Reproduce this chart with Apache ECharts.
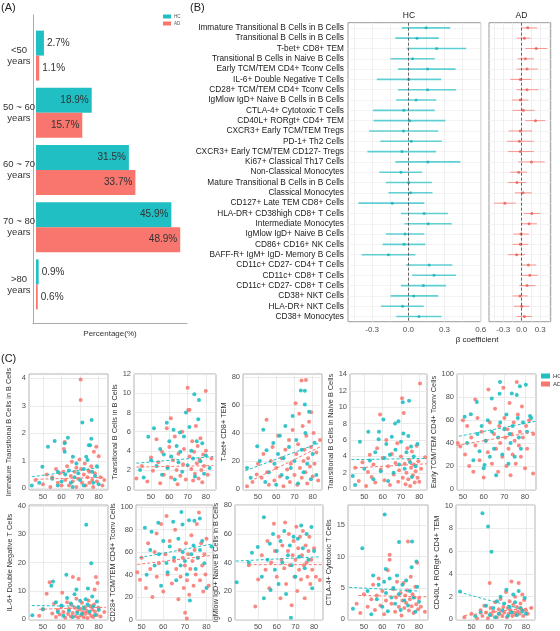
<!DOCTYPE html>
<html>
<head>
<meta charset="utf-8">
<script src="https://cdn.jsdelivr.net/npm/echarts@6/dist/echarts.min.js"></script>
<style>
  html, body { margin: 0; padding: 0; background: #fff; }
  #chart { width: 560px; height: 631px; }
</style>
</head>
<body>
<div id="chart"></div>
<script>
const HC_COLOR = '#1fbfc4';
const AD_COLOR = '#f8766d';
const FONT = '"Liberation Sans", Arial, sans-serif';

// (A) age distribution
const ageGroups = ['<50\nyears', '50 ~ 60\nyears', '60 ~ 70\nyears', '70 ~ 80\nyears', '>80\nyears'];
const hcPct = [2.7, 18.9, 31.5, 45.9, 0.9];
const adPct = [1.1, 15.7, 33.7, 48.9, 0.6];

// (B) beta coefficients
const cellTypes = [
  'Immature Transitional B Cells in B Cells', 'Transitional B Cells in B Cells', 'T-bet+ CD8+ TEM',
  'Transitional B Cells in Naive B Cells', 'Early TCM/TEM CD4+ Tconv Cells', 'IL-6+ Double Negative T Cells',
  'CD28+ TCM/TEM CD4+ Tconv Cells', 'IgMlow IgD+ Naive B Cells in B Cells', 'CTLA-4+ Cytotoxic T Cells',
  'CD40L+ RORgt+ CD4+ TEM', 'CXCR3+ Early TCM/TEM Tregs', 'PD-1+ Th2 Cells',
  'CXCR3+ Early TCM/TEM CD127- Tregs', 'Ki67+ Classical Th17 Cells', 'Non-Classical Monocytes',
  'Mature Transitional B Cells in B Cells', 'Classical Monocytes', 'CD127+ Late TEM CD8+ Cells',
  'HLA-DR+ CD38high CD8+ T Cells', 'Intermediate Monocytes', 'IgMlow IgD+ Naive B Cells',
  'CD86+ CD16+ NK Cells', 'BAFF-R+ IgM+ IgD- Memory B Cells', 'CD11c+ CD27- CD4+ T Cells',
  'CD11c+ CD8+ T Cells', 'CD11c+ CD27- CD8+ T Cells', 'CD38+ NKT Cells', 'HLA-DR+ NKT Cells', 'CD38+ Monocytes'
];
const hcBeta = [0.147, 0.072, 0.235, 0.035, 0.16, 0.003, 0.16, 0.064, -0.037, 0.011, -0.04, 0.024, -0.053, 0.163, -0.061,
  0.003, 0.019, -0.133, 0.131, 0.165, -0.027, -0.035, -0.165, 0.173, 0.213, 0.125, 0.045, -0.048, 0.088];
const hcLow = [-0.053, -0.107, -0.013, -0.147, -0.085, -0.261, -0.085, -0.101, -0.293, -0.288, -0.325, -0.232, -0.339, -0.107, -0.24,
  -0.187, -0.165, -0.413, -0.061, -0.032, -0.187, -0.213, -0.387, -0.019, 0.032, -0.061, -0.147, -0.227, -0.099];
const hcHigh = [0.347, 0.253, 0.48, 0.219, 0.392, 0.272, 0.397, 0.232, 0.219, 0.307, 0.248, 0.277, 0.229, 0.432, 0.115,
  0.195, 0.2, 0.133, 0.328, 0.36, 0.133, 0.141, 0.059, 0.365, 0.395, 0.312, 0.248, 0.128, 0.275];
const adBeta = [0.098, 0.044, 0.235, 0.06, 0.087, -0.022, 0.087, -0.022, 0.027, 0.224, -0.022, -0.038, -0.022, 0.158, -0.049,
  -0.077, 0.022, -0.273, 0.164, 0.12, -0.011, -0.022, -0.082, 0.109, 0.131, 0.087, -0.027, 0, 0.044];
const adLow = [-0.011, -0.082, 0.06, -0.066, -0.082, -0.186, -0.082, -0.158, -0.148, 0.06, -0.213, -0.24, -0.219, -0.055, -0.186,
  -0.219, -0.109, -0.448, 0.033, -0.011, -0.137, -0.148, -0.219, -0.011, 0, -0.038, -0.148, -0.131, -0.082];
const adHigh = [0.251, 0.142, 0.41, 0.197, 0.262, 0.153, 0.273, 0.109, 0.208, 0.383, 0.169, 0.197, 0.197, 0.372, 0.087,
  0.071, 0.164, -0.093, 0.3, 0.246, 0.115, 0.109, 0.055, 0.235, 0.262, 0.224, 0.098, 0.126, 0.164];
const hcBetaTicks = [-0.3, 0, 0.3, 0.6];
const adBetaTicks = [-0.3, 0, 0.3];

// (C) age vs cell level
const ageTicks = [50, 60, 70, 80];
const scatterTitles = [
  'Immature Transitional B Cells in B Cells', 'Transitional B Cells in B Cells', 'T-bet+ CD8+ TEM',
  'Transitional B Cells in Naive B Cells', 'Early TCM/TEM CD4+ Tconv Cells', 'IL-6+ Double Negative T Cells',
  'CD28+ TCM/TEM CD4+ Tconv Cells', 'IgMlow IgD+ Naive B Cells in B Cells', 'CTLA-4+ Cytotoxic T Cells',
  'CD40L+ RORgt+ CD4+ TEM'
];
const scatterYTicks = [
  [0, 1, 2, 3, 4], [0, 2, 4, 6, 8, 10, 12], [0, 20, 40, 60, 80], [0, 2, 4, 6, 8, 10, 12, 14], [0, 20, 40, 60, 80, 100],
  [0, 10, 20, 30, 40], [0, 20, 40, 60, 80, 100], [0, 20, 40, 60, 80], [0, 5, 10, 15], [0, 2, 4, 6, 8, 10]
];
const hcPoints = [
  [[44,0.1],[48,0.2],[49.7,0.79],[52.7,1.51],[55,0.35],[56.3,1.72],[58,0.6],[60,0.25],[61.7,1.64],[61.7,1.33],[62,0.5],[63.4,1.84],
   [64,0.65],[65,0.2],[66.1,1.15],[67,0.4],[68,0.9],[69,0.55],[70,0.3],[71.2,2.4],[72,0.7],[73.3,1.15],[74,1.03],[74.7,1.57],
   [75.4,1.57],[76,1.8],[76.2,2.49],[76.5,0.6],[77,0.2],[78,0.45],[79,0.8],[80,0.15],[66,0.05],[58,0.1],[72,0.1]],
  [[44,2.0],[46,1.2],[48.5,5.47],[50,3.0],[51.6,6.35],[53,2.4],[55,4.2],[56,1.5],[57,3.6],[58.6,6.94],[59,2.2],[60,5.0],[61,3.4],
   [62.3,6.2],[63,1.0],[64,4.5],[65,2.8],[65.8,5.9],[66,3.9],[67,1.8],[68,5.5],[69.1,8.0],[70,2.5],[71,6.5],[72,4.0],[73,3.2],
   [73.7,9.9],[74,1.3],[75,5.0],[75.8,7.3],[76.2,9.3],[77,2.9],[78,4.8],[79,1.6],[80,3.5],[82,2.2]],
  [[44,15],[46,8],[49.6,30.5],[51,20],[52.9,42.3],[54,5],[54.7,27.7],[56,12],[58.4,32.8],[59,18],[60,3],[61,25],[62,38],[63,10],
   [64,22],[65,45],[66,8],[67,30],[68,15],[69,52],[70,20],[71,35],[72,4],[73.5,70.2],[74,28],[75,12],[75.7,70],[75.7,60.3],[76,40],
   [77,18],[78,55],[79,7],[80,25],[81,33],[82,10]],
  [[43.7,1.6],[45,0.5],[47.6,5.8],[50,2.5],[52.2,7.0],[53,3.5],[55,1.2],[56,4.5],[57.8,6.1],[58,7.0],[59,2.2],[60.4,8.5],[61,3.8],
   [62,5.5],[63,1.0],[64,4.2],[65,6.4],[66,2.0],[66.8,8.0],[67,4.8],[68.6,8.3],[69,3.0],[70,5.8],[71,10.6],[71.3,6.8],[72,2.5],
   [73,4.5],[74,6.5],[74.4,10.8],[75,3.3],[75.5,5.2],[76,1.5],[77,4.0],[78,2.8],[79,5.5]],
  [[50.8,62.9],[52,40],[53.8,65.2],[55,25],[56.7,75.9],[57,48],[58,33],[59,55],[60,18],[60.4,20.9],[61,42],[62,60],[63,28],
   [63.9,78.9],[64,50],[65,35],[66,12],[67,45],[67.7,83],[67.9,93.3],[68,58],[69,30],[70,52],[71,65],[72,22],[72.5,48],[73,40],
   [73.6,83.2],[74,55],[75,28],[76,82],[76.5,62],[77,45],[77.5,89.6],[78,35],[79,58],[80.4,91],[81,50],[82.4,63.7],[83,62]],
  [[44.3,1.4],[50,3.5],[54.5,11.8],[55.4,13.3],[57,6],[58,2.5],[60,4.8],[61,1.2],[62.6,15.7],[63,7.5],[64,3],[65,5.5],[66,0.8],
   [67,8.8],[68,10.5],[68.5,2.2],[69,4.2],[70,6.5],[71,1.8],[72,3.8],[73,7.0],[73.3,33.3],[74,5.2],[74.2,10.8],[75,2.6],[76,19.7],
   [76.5,8.0],[77,4.5],[78,1.5],[79,6.2],[80,3.2]],
  [[51.5,81.7],[52.3,39.8],[54,62],[54.6,78.1],[56,48],[57.7,86.1],[58,58],[59,30],[60,70],[61.5,50.2],[62,42],[63,65],[64.6,87],
   [65,55],[66,35],[67,72],[68,48],[68.4,95.8],[68.9,84.7],[69,60],[70,52],[71,40],[71.9,88.5],[72.3,16.8],[73,58],[74,66],
   [74.4,88],[75,45],[76,55],[76.9,90],[77,62],[78,70],[79,50],[80,28],[82.3,64.9]],
  [[38.5,26.2],[45,40],[46.7,46.8],[49.8,50.9],[52,30],[53.1,71.8],[53.1,15],[55,42],[56.3,53.2],[56.7,20.8],[58,60],[59,35],
   [60,48],[61,25],[62,55],[63,40],[64,62],[65,18],[66,45],[67,52],[67.6,1.2],[68,38],[69,58],[70,30],[71.3,56.7],[72,44],
   [73.1,66],[74,50],[75,36],[76,60],[77,42],[78.6,64.8],[79,22],[80,48]],
  [[44,1.7],[49.1,11.3],[52,4.5],[54,0.8],[55,7.0],[57,3.2],[58,5.5],[60,2.0],[61,6.0],[61.3,16.7],[61.9,8.0],[62,4.2],[63,1.3],
   [64,6.5],[65,3.5],[66,5.0],[67,2.5],[68,7.0],[69,4.0],[69.1,12.3],[70,1.5],[71,5.5],[72,3.0],[73,6.2],[74,2.2],[75,4.5],
   [76,8.3],[76.2,12.4],[77,3.5],[78,1.2],[78.6,9.2],[79,5.2],[80,2.8]],
  [[43.6,2.46],[52,0.3],[55,0.6],[56,9.33],[58,1.2],[59.1,8.17],[60,0.4],[61,5.94],[62,1.0],[63,0.2],[64,1.6],[65,0.5],[66,2.0],
   [67,0.8],[68,1.4],[69.2,2.6],[70,0.3],[71,1.1],[72,0.6],[73,2.2],[74,1.5],[75,0.4],[76,2.5],[77,1.0],[78,0.7],[79.3,1.88],[80,0.5]]
];
const adPoints = [
  [[46,0.3],[50,0.15],[52,0.5],[54,0.05],[55,0.4],[57,0.7],[58,0.2],[59,0.55],[60,0.1],[61,0.6],[61.3,1.43],[61.7,1.69],[62,0.3],
   [63,0.8],[64,0.1],[65,0.45],[65.6,0.97],[66,0.25],[67,0.6],[68,0.05],[69,0.35],[69.7,1.05],[70.3,3.96],[70.3,3.21],[70.5,0.7],
   [71,0.2],[72,0.5],[72.5,0.9],[73,0.1],[74,0.4],[74.5,0.65],[75,0.2],[76,0.8],[76.5,0.3],[77,0.05],[77.4,1.33],[78,0.55],
   [78.7,1.51],[79,0.25],[80,1.17],[81,0.4],[82,0.1],[83,0.3],[75,0.6],[68,0.75]],
  [[42,1.1],[45,2.4],[48,0.8],[50,3.3],[51,1.9],[53,5.2],[54,2.8],[55,0.6],[56,3.9],[57,1.5],[58.6,6.35],[59,2.3],[60,4.4],
   [60.8,7.4],[61,1.2],[62,3.0],[63,5.5],[64,2.0],[64.5,0.5],[65,3.7],[66,1.4],[67,6.0],[67.5,2.6],[68,4.2],[69,1.0],[70,10.6],
   [70.4,8.26],[71,8.3],[71,3.4],[72,2.1],[72.5,5.0],[73,0.9],[73.5,3.9],[74,1.6],[74.5,6.6],[75,2.7],[75.5,4.5],[76,1.1],
   [76.5,3.1],[77,5.3],[77.5,2.0],[78,0.7],[78.5,3.6],[79,2.4],[79.9,10.25],[80,4.0],[81,1.5],[83,3.2]],
  [[44,2],[47,5],[49.3,10.4],[50,18],[52,8],[53,25],[54.7,49.4],[55,12],[56,3],[57,20],[58,30],[59,6],[60,15],[61,38],[62,9],
   [63,22],[64,2],[65,28],[66,14],[67,35],[67.5,5],[68,18],[69,42],[70,10],[70.6,61.2],[71,25],[71.5,3],[72,32],[72.6,53.7],
   [73,15],[73.9,77.3],[74,8],[74.5,45],[75,20],[75.5,28],[76,12],[76.3,77.8],[76.5,38],[77,4],[77.5,22],[78,48],[78.5,16],
   [79,30],[79.2,54.8],[80,9],[80.5,40],[81,18],[82,26],[83,6],[84,35]],
  [[45,2.6],[47,1.0],[49,3.3],[51,0.4],[52,2.1],[53,4.2],[54,1.5],[55,3.0],[56,0.8],[57,5.0],[58.6,9.1],[59,2.4],[60,3.8],[61,1.1],
   [62,6.0],[63,2.8],[64,0.5],[65,4.3],[66,1.8],[67,3.2],[68,5.6],[68.5,0.9],[69,2.3],[70,4.0],[70.6,11.1],[71,1.4],[71.5,9.3],
   [72,3.1],[72.5,0.6],[73,2.0],[73.5,5.0],[74,1.2],[74.5,3.6],[75,0.4],[75.5,2.6],[76,4.6],[76.5,1.7],[77,3.0],[77.5,0.8],
   [78,2.2],[78.5,5.3],[79,1.4],[79.5,3.4],[80,0.9],[80.4,12.9],[81,2.5],[83.2,3.9]],
  [[47.5,40],[48.7,37.1],[50,60],[51,30],[52,55],[53,20],[54,45],[55,15],[55.9,78],[56,38],[57,62],[58,25],[59,50],[60,10],[61,42],
   [62,32],[62.3,86.7],[63,58],[64,22],[65,48],[65.5,70],[66,35],[67,15],[67.5,55],[68,40],[69,28],[69.5,88.4],[70,62],[70.5,45],
   [71,20],[71.5,52],[72,35],[72.5,75],[73,12],[73.5,48],[74,30],[74.5,58],[75,42],[75.5,22],[76,93.3],[76.5,65],[77,38],
   [77.5,50],[78,28],[78.5,72],[79,45],[80,18],[80.5,55],[81,35],[82,60],[83.9,13.6],[84,48]],
  [[48,1.2],[50,3.5],[52,9.0],[53.6,13],[55,2.0],[56,5.5],[57,0.8],[58,3.2],[59,1.6],[60,4.4],[60.4,9.3],[61,2.5],[62,0.5],[63,6.0],
   [63.5,1.8],[64,3.6],[65,0.9],[65.5,5.0],[66,2.2],[66.1,14.9],[67,4.0],[67.5,1.0],[68,7.2],[68.5,2.8],[69,0.6],[69.2,14.2],
   [70,3.5],[70.5,1.4],[71,5.8],[71.5,2.4],[72,0.7],[72.5,4.2],[73,1.9],[73.5,3.0],[74,0.4],[74.5,6.6],[75,2.1],[75.5,4.6],
   [76,1.1],[76.5,3.3],[77,0.8],[77.5,5.2],[77.8,10.5],[78,2.7],[78.5,14.9],[79,1.5],[79.4,12.8],[80,3.9],[81,0.9],[83,2.5]],
  [[48,42],[49.2,35.4],[50,55],[52,28],[53,68],[54,45],[55,20],[56,60],[56.9,76.7],[57,38],[58,50],[59,85],[60,25],[61,58],
   [61.5,92.3],[62,40],[63,70],[64,32],[65,52],[65.5,80],[66,45],[67,18],[67.5,62],[68,38],[69,55],[69.5,28],[70,48],[70.1,5.9],
   [70.5,68],[70.9,0.9],[71,35],[71.5,58],[72,22],[72.5,45],[73,75],[73.5,52],[74,30],[74.5,62],[75,40],[75.5,85],[76,55],
   [76.5,95.3],[77,35],[77.5,68],[78,48],[78.5,25],[79,58],[79.5,40],[80,72],[81,30]],
  [[45,38],[48.5,9.2],[50,28],[52,45],[54,35],[55,55],[56,22],[57,40],[58.5,67.1],[59,48],[60,30],[61,58],[62,15],[62.5,42],
   [63,52],[64,36],[64.5,68],[65,25],[66,48],[66.5,60],[67,38],[68,10],[68.5,45],[69,55],[69.5,30],[70,42],[70.5,65],[71,20],
   [71.5,50],[72,35],[72.5,58],[73,28],[73.5,45],[74,62],[74.5,38],[75,15],[75.5,52],[76,40],[76.5,30],[77,48],[77.5,58],
   [78,25],[78.5,42],[79,35],[80,50],[81,30],[83.1,27.8]],
  [[46,2.5],[48,1.0],[50,4.0],[52,2.0],[54,3.2],[55,5.5],[56,1.5],[57,3.8],[58,6.5],[59,2.2],[60,4.5],[61,0.8],[62,3.0],[63,7.8],
   [64,10.3],[64,9.5],[65,2.5],[66,4.8],[67,1.2],[67.5,3.5],[68,6.0],[69,2.0],[70,4.2],[70.5,0.6],[71,3.0],[71.5,5.8],[72,1.8],
   [72.5,3.8],[73,2.6],[73.5,4.6],[74,12.4],[74.5,1.4],[75,3.2],[75.5,6.8],[76,2.1],[76.5,4.0],[77,1.0],[77.5,3.5],[78,5.2],
   [78.5,2.4],[79,9.0],[79.5,1.6],[80,3.4],[81,2.0],[83.2,1.2]],
  [[46,0.2],[50,0.5],[53,0.1],[55,0.8],[56,0.3],[57,1.2],[58,0.6],[59,0.1],[60,3.19],[60.5,1.0],[61,0.4],[62,0.7],[63,1.5],
   [64,0.2],[65,0.9],[65.5,0.5],[66,1.8],[67,0.3],[67.5,1.1],[68,0.6],[69,2.4],[69.5,0.2],[70,1.0],[70.5,0.5],[71,1.6],[71.5,0.8],
   [72,3.33],[72.5,0.3],[73,1.3],[73.5,0.6],[74,2.0],[74.5,0.4],[75,1.1],[75.5,0.7],[76,3.2],[76.5,0.5],[77,1.4],[77.5,0.9],
   [78,2.2],[78.5,0.3],[79,1.7],[80,0.8],[81,0.5],[83,1.0]]
];
const hcTrend = [
  [[44,0.42],[80,0.75]], [[42,2.7],[84,3.4]], [[43,13],[84,33]], [[43,3.6],[83,3.75]], [[48,46],[85,59]],
  [[44,4.8],[80,4.5]], [[49,55],[82,67]], [[38,41],[83,44]], [[42,5.1],[80,4.5]], [[43,2.4],[80,0.8]]
];
const adTrend = [
  [[46,0.33],[83,0.4]], [[42,2.3],[84,2.45]], [[48,7],[84,30]], [[45,2.6],[84,3.1]], [[47,38],[85,50]],
  [[48,3.5],[84,4.2]], [[48,49],[82,57]], [[45,38.5],[84,38.5]], [[47,3.8],[84,3.6]], [[46,0.35],[84,1.05]]
];

// layout of the small panels in (C)
const scatterLayout = [
  { left: 29, top: 374, width: 79, height: 116, xMin: 42.5, xMax: 85, yMin: -0.06, yMax: 4.16, nameGap: 17 },
  { left: 134, top: 374, width: 82, height: 116, xMin: 40.7, xMax: 85.5, yMin: -0.1, yMax: 12.03, nameGap: 9 },
  { left: 243, top: 374, width: 79, height: 116, xMin: 41.8, xMax: 85.1, yMin: -0.7, yMax: 82, nameGap: 9 },
  { left: 350, top: 374, width: 77, height: 116, xMin: 42.2, xMax: 84.2, yMin: -0.1, yMax: 14.05, nameGap: 10 },
  { left: 457, top: 374, width: 79, height: 116, xMin: 47.1, xMax: 85.3, yMin: -0.9, yMax: 100.3, nameGap: 13 },
  { left: 29, top: 505, width: 79, height: 115, xMin: 42.5, xMax: 85, yMin: -0.3, yMax: 40.3, nameGap: 11 },
  { left: 136, top: 505, width: 77, height: 115, xMin: 47.4, xMax: 83, yMin: -0.5, yMax: 102, nameGap: 12 },
  { left: 235, top: 505, width: 88, height: 115, xMin: 37.6, xMax: 84.8, yMin: -0.3, yMax: 80.3, nameGap: 8 },
  { left: 348, top: 505, width: 80, height: 115, xMin: 41.3, xMax: 84.9, yMin: -0.1, yMax: 18.2, nameGap: 10 },
  { left: 456, top: 505, width: 79, height: 115, xMin: 41.4, xMax: 85, yMin: -0.05, yMax: 10.05, nameGap: 10 }
];

const chart = echarts.init(document.getElementById('chart'));
const tickText = { fontFamily: FONT, fontSize: 7.5, color: '#4d4d4d' };
const grids = [];
const xAxes = [];
const yAxes = [];
const series = [];

// ---- (A) bars
grids.push({ left: 33, top: 27, width: 154, height: 286 });
xAxes.push({ gridIndex: 0, type: 'value', min: 0, max: 51.2, show: false });
yAxes.push({
  gridIndex: 0, type: 'category', data: ageGroups, inverse: true,
  axisLine: { show: false }, axisTick: { show: false },
  axisLabel: { align: 'center', margin: 17, fontFamily: FONT, fontSize: 9.5, lineHeight: 11, color: '#333' }
});
grids.push({ left: 33, top: 15, width: 154, height: 308 });
xAxes.push({
  gridIndex: 1, type: 'value', min: 0, max: 1,
  axisLine: { show: true, lineStyle: { color: '#aaa' } }, axisTick: { show: false },
  axisLabel: { show: false }, splitLine: { show: false },
  name: 'Percentage(%)', nameLocation: 'middle', nameGap: 7,
  nameTextStyle: { fontFamily: FONT, fontSize: 8, color: '#333' }
});
yAxes.push({
  gridIndex: 1, type: 'value', min: 0, max: 1,
  axisLine: { show: true, lineStyle: { color: '#aaa' } }, axisTick: { show: false },
  axisLabel: { show: false }, splitLine: { show: false }
});
const pctLabel = { show: true, formatter: (p) => p.value + '%', fontFamily: FONT, fontSize: 10, color: '#333', distance: 3 };
[['HC', hcPct, HC_COLOR], ['AD', adPct, AD_COLOR]].forEach(([name, vals, color]) => {
  series.push({
    name, type: 'bar', xAxisIndex: 0, yAxisIndex: 0, barWidth: 25, barGap: '0%',
    itemStyle: { color },
    label: pctLabel,
    data: vals.map((v) => ({ value: v, label: { position: v < 10 ? 'right' : 'insideRight' } }))
  });
});

// ---- (B) forest plots
function forestPanel(gi, left, width, min, max, labelTicks, gridTicks, showNames, beta, low, high, color, lineColor, lineWidth, name) {
  grids.push({ left, top: 22.7, width, height: 299, show: true, borderColor: '#999', borderWidth: 1 });
  xAxes.push({
    gridIndex: gi, type: 'value', min, max,
    axisLine: { show: false },
    axisTick: { show: false, customValues: gridTicks },
    axisLabel: { customValues: labelTicks, margin: 4, formatter: (v) => v.toFixed(1), ...tickText, fontSize: 8 },
    splitLine: { show: true, lineStyle: { color: '#ececec', width: 0.8 } }
  });
  yAxes.push({
    gridIndex: gi, type: 'category', data: cellTypes, inverse: true,
    axisLine: { show: false }, axisTick: { show: false, interval: 0 },
    axisLabel: { show: showNames, interval: 0, margin: 4, fontFamily: FONT, fontSize: 8.3, color: '#1a1a1a' },
    splitLine: { show: true, interval: 0, alignWithLabel: true, lineStyle: { color: '#f0f0f0', width: 0.8 } }
  });
  series.push({
    type: 'custom', xAxisIndex: gi, yAxisIndex: gi,
    encode: { x: [0, 1], y: 2 },
    data: cellTypes.map((c, i) => [low[i], high[i], i]),
    renderItem: (params, api) => {
      const a = api.coord([api.value(0), api.value(2)]);
      const b = api.coord([api.value(1), api.value(2)]);
      return { type: 'line', shape: { x1: a[0], y1: a[1], x2: b[0], y2: b[1] }, style: { stroke: lineColor, lineWidth } };
    },
    z: 2
  });
  series.push({
    name, type: 'scatter', xAxisIndex: gi, yAxisIndex: gi,
    symbolSize: 3, itemStyle: { color },
    data: cellTypes.map((c, i) => [beta[i], i]),
    markLine: {
      silent: true, symbol: 'none', label: { show: false },
      lineStyle: { color: '#555', type: [3, 2], width: 0.9 },
      data: [{ xAxis: 0 }]
    },
    z: 3
  });
}
forestPanel(2, 348, 132.7, -0.5, 0.6, hcBetaTicks, [-0.45, -0.3, -0.15, 0, 0.15, 0.3, 0.45, 0.6], true,
  hcBeta, hcLow, hcHigh, '#12b3b8', 'rgba(31,191,196,0.7)', 1.6, 'HC');
forestPanel(3, 489, 61.7, -0.53, 0.47, adBetaTicks, [-0.45, -0.3, -0.15, 0, 0.15, 0.3, 0.45], false,
  adBeta, adLow, adHigh, '#ee5a50', 'rgba(248,118,109,0.75)', 1, 'AD');

// ---- (C) scatter panels
scatterLayout.forEach((L, k) => {
  const gi = 4 + k;
  grids.push({ left: L.left, top: L.top, width: L.width, height: L.height, show: true, borderColor: '#b3b3b3', borderWidth: 1 });
  xAxes.push({
    gridIndex: gi, type: 'value', min: L.xMin, max: L.xMax,
    axisLine: { show: false },
    axisTick: { show: false, customValues: ageTicks },
    axisLabel: { customValues: ageTicks, margin: 3, ...tickText },
    splitLine: { show: true, lineStyle: { color: '#e6e6e6', width: 0.8 } }
  });
  yAxes.push({
    gridIndex: gi, type: 'value', min: L.yMin, max: L.yMax,
    axisLine: { show: false },
    axisTick: { show: false, customValues: scatterYTicks[k] },
    axisLabel: { customValues: scatterYTicks[k], margin: 3, ...tickText },
    splitLine: { show: true, lineStyle: { color: '#e6e6e6', width: 0.8 } },
    name: scatterTitles[k], nameLocation: 'middle', nameGap: L.nameGap,
    nameTextStyle: { fontFamily: FONT, fontSize: 7.3, color: '#333' }
  });
  series.push({
    name: 'AD', type: 'scatter', xAxisIndex: gi, yAxisIndex: gi, symbolSize: 4,
    itemStyle: { color: AD_COLOR, opacity: 0.85 }, data: adPoints[k]
  });
  series.push({
    name: 'HC', type: 'scatter', xAxisIndex: gi, yAxisIndex: gi, symbolSize: 4,
    itemStyle: { color: HC_COLOR, opacity: 0.9 }, data: hcPoints[k]
  });
  series.push({
    type: 'line', xAxisIndex: gi, yAxisIndex: gi, symbol: 'none', silent: true,
    lineStyle: { color: AD_COLOR, width: 1, type: [3, 2] }, data: adTrend[k]
  });
  series.push({
    type: 'line', xAxisIndex: gi, yAxisIndex: gi, symbol: 'none', silent: true,
    lineStyle: { color: HC_COLOR, width: 1, type: [3, 2] }, data: hcTrend[k]
  });
});

const legendBase = {
  data: ['HC', 'AD'], orient: 'vertical', selectedMode: false, icon: 'rect',
  itemGap: 2, padding: 0
};

chart.setOption({
  animation: false,
  textStyle: { fontFamily: FONT },
  grid: grids,
  xAxis: xAxes,
  yAxis: yAxes,
  series,
  legend: [
    { ...legendBase, left: 163, top: 14, itemWidth: 8, itemHeight: 4, textStyle: { fontSize: 4.5, color: '#555', padding: [0, 0, 0, -2] } },
    { ...legendBase, left: 541, top: 373, itemWidth: 9, itemHeight: 5, textStyle: { fontSize: 6, color: '#333', padding: [0, 0, 0, -2] } }
  ],
  graphic: [
    { type: 'text', left: 1, top: 2, style: { text: '(A)', font: '11px ' + FONT, fill: '#222' } },
    { type: 'text', left: 190, top: 2, style: { text: '(B)', font: '11px ' + FONT, fill: '#222' } },
    { type: 'text', left: 1, top: 353, style: { text: '(C)', font: '11px ' + FONT, fill: '#222' } },
    { type: 'text', x: 409, y: 16, style: { text: 'HC', font: '8.5px ' + FONT, fill: '#222', align: 'center', verticalAlign: 'middle' } },
    { type: 'text', x: 521.5, y: 16, style: { text: 'AD', font: '8.5px ' + FONT, fill: '#222', align: 'center', verticalAlign: 'middle' } },
    { type: 'text', x: 477, y: 340, style: { text: 'β coefficient', font: '8px ' + FONT, fill: '#222', align: 'center', verticalAlign: 'middle' } }
  ]
});
</script>
</body>
</html>
